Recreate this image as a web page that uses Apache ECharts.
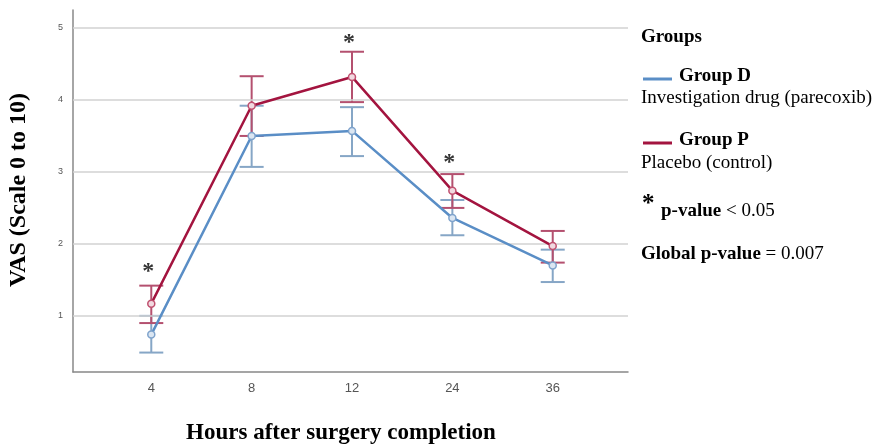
<!DOCTYPE html>
<html><head><meta charset="utf-8">
<script src="https://cdn.jsdelivr.net/npm/echarts@6/dist/echarts.min.js"></script>
<style>html,body{margin:0;padding:0;background:#fff}#c{width:888px;height:445px}</style>
</head><body><div id="c"></div>
<script>
const hours = ['4', '8', '12', '24', '36'];
const groupD = [0.74, 3.50, 3.57, 2.36, 1.70];
const groupDLow = [0.49, 3.07, 3.22, 2.12, 1.47];
const groupDHigh = [1.00, 3.92, 3.90, 2.61, 1.92];
const groupP = [1.17, 3.92, 4.32, 2.74, 1.97];
const groupPLow = [0.90, 3.50, 3.97, 2.50, 1.74];
const groupPHigh = [1.42, 4.33, 4.67, 2.97, 2.18];
const yTicks = [1, 2, 3, 4, 5];
const sigHours = ['4', '12', '24'];
const sigLevel = [1.68, 4.87, 3.20];

const idx = hours.map((h, i) => i);
const colD = '#5a8ec6', colDErr = '#86a6c6';
const colP = '#a3143f', colPErr = '#b4506f';
const serif = '"Liberation Serif", "Times New Roman", serif';

function errSeries(low, high, color, z) {
  return {
    type: 'custom', z: z, silent: true,
    data: idx.map(i => [i, low[i], high[i]]),
    renderItem: function (params, api) {
      const x = api.value(0);
      const a = api.coord([x, api.value(1)]);
      const b = api.coord([x, api.value(2)]);
      const hw = 12;
      const st = { stroke: color, lineWidth: 2 };
      return { type: 'group', children: [
        { type: 'line', shape: { x1: a[0], y1: a[1], x2: b[0], y2: b[1] }, style: st },
        { type: 'line', shape: { x1: a[0] - hw, y1: a[1], x2: a[0] + hw, y2: a[1] }, style: st },
        { type: 'line', shape: { x1: b[0] - hw, y1: b[1], x2: b[0] + hw, y2: b[1] }, style: st }
      ]};
    }
  };
}

const chart = echarts.init(document.getElementById('c'));
chart.setOption({
  animation: false,
  grid: { left: 73, right: 260, top: 10, bottom: 73 },
  xAxis: {
    type: 'value', min: -0.78, max: 4.75,
    axisLine: { show: true, onZero: false, lineStyle: { color: '#888', width: 1.5 } },
    axisTick: { show: false },
    splitLine: { show: false },
    axisLabel: {
      customValues: idx, formatter: v => hours[Math.round(v)],
      color: '#555', fontSize: 13, margin: 10, fontFamily: 'Liberation Sans, Arial, sans-serif'
    }
  },
  yAxis: {
    type: 'value', min: 0.22, max: 5.25,
    axisLine: { show: true, onZero: false, lineStyle: { color: '#888', width: 1.5 } },
    axisTick: { show: false },
    splitLine: { show: false },
    axisLabel: {
      customValues: yTicks, color: '#555', fontSize: 9, margin: 10,
      fontFamily: 'Liberation Sans, Arial, sans-serif'
    }
  },
  graphic: [
    { type: 'text', x: 19, y: 190, rotation: Math.PI / 2, style: { text: 'VAS (Scale 0 to 10)', font: 'bold 24px ' + serif, fill: '#000', textAlign: 'center', textVerticalAlign: 'middle' } },
    { type: 'text', x: 341, y: 433, style: { text: 'Hours after surgery completion', font: 'bold 23px ' + serif, fill: '#000', textAlign: 'center', textVerticalAlign: 'middle' } },
    { type: 'text', x: 641, y: 37, style: { text: 'Groups', font: 'bold 19px ' + serif, fill: '#000', textVerticalAlign: 'middle' } },
    { type: 'line', shape: { x1: 643, y1: 79, x2: 672, y2: 79 }, style: { stroke: colD, lineWidth: 3 } },
    { type: 'text', x: 679, y: 76, style: { text: 'Group D', font: 'bold 19px ' + serif, fill: '#000', textVerticalAlign: 'middle' } },
    { type: 'text', x: 641, y: 98, style: { text: 'Investigation drug (parecoxib)', font: '19px ' + serif, fill: '#000', textVerticalAlign: 'middle' } },
    { type: 'line', shape: { x1: 643, y1: 143, x2: 672, y2: 143 }, style: { stroke: colP, lineWidth: 3 } },
    { type: 'text', x: 679, y: 140, style: { text: 'Group P', font: 'bold 19px ' + serif, fill: '#000', textVerticalAlign: 'middle' } },
    { type: 'text', x: 641, y: 163, style: { text: 'Placebo (control)', font: '19px ' + serif, fill: '#000', textVerticalAlign: 'middle' } },
    { type: 'text', x: 642, y: 205, style: { text: '*', font: 'bold 25px ' + serif, fill: '#000', textVerticalAlign: 'middle' } },
    { type: 'text', x: 661, y: 211, style: { text: '{b|p-value} < 0.05', font: '19px ' + serif, fill: '#000', textVerticalAlign: 'middle', rich: { b: { font: 'bold 19px ' + serif } } } },
    { type: 'text', x: 641, y: 254, style: { text: '{b|Global p-value} = 0.007', font: '19px ' + serif, fill: '#000', textVerticalAlign: 'middle', rich: { b: { font: 'bold 19px ' + serif } } } }
  ],
  series: [
    {
      type: 'line', silent: true, z: 1, symbol: 'none', data: [],
      markLine: { silent: true, symbol: 'none', label: { show: false },
        lineStyle: { color: '#d2d2d2', width: 1.5, type: 'solid' },
        data: yTicks.map(v => ({ yAxis: v })) }
    },
    errSeries(groupDLow, groupDHigh, colDErr, 3),
    errSeries(groupPLow, groupPHigh, colPErr, 4),
    {
      name: 'Group D', type: 'line', z: 5, data: idx.map(i => [i, groupD[i]]),
      lineStyle: { color: colD, width: 2.5 }, symbol: 'circle', symbolSize: 7,
      itemStyle: { color: '#dbe6f2', borderColor: '#7fa3cc', borderWidth: 1.5 }
    },
    {
      name: 'Group P', type: 'line', z: 6, data: idx.map(i => [i, groupP[i]]),
      lineStyle: { color: colP, width: 2.5 }, symbol: 'circle', symbolSize: 7,
      itemStyle: { color: '#f1d9e0', borderColor: '#c0506f', borderWidth: 1.5 }
    },
    {
      type: 'scatter', z: 7, silent: true, symbolSize: 0,
      data: sigHours.map((h, k) => [hours.indexOf(h), sigLevel[k]]),
      label: { show: true, position: 'inside', formatter: '*', color: '#000', fontSize: 24, fontWeight: 'bold', fontFamily: serif, offset: [-3, 5] }
    }
  ]
});
</script></body></html>
